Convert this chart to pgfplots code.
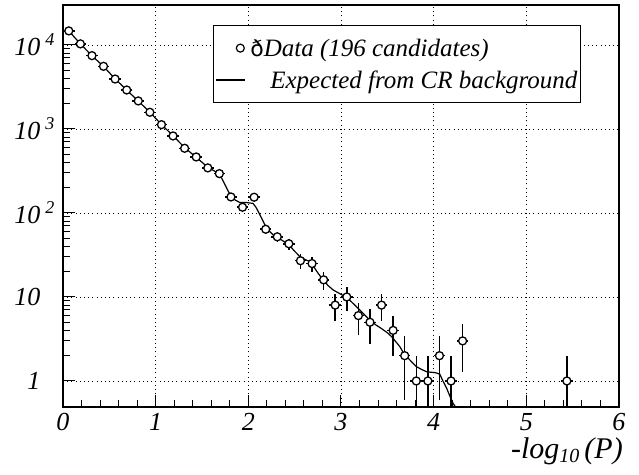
\documentclass[border=0pt]{standalone}
\usepackage{fontspec}
\setmainfont{Liberation Serif}
\newfontfamily\dejavu{DejaVu Sans}
\usepackage{pgfplots}
\pgfplotsset{compat=1.18}
\usepackage{pgfplotstable}

\pgfplotstableread{
x y ex eyp eym
0.0625 14700 0.0625 121 121
0.1875 10300 0.0625 101 101
0.3125 7460 0.0625 86 86
0.4375 5570 0.0625 75 75
0.5625 3930 0.0625 63 63
0.6875 2910 0.0625 54 54
0.8125 2155 0.0625 46 46
0.9375 1580 0.0625 40 40
1.0625 1125 0.0625 34 34
1.1875 826 0.0625 29 29
1.3125 589 0.0625 24 24
1.4375 464 0.0625 22 22
1.5625 344 0.0625 19 19
1.6875 294 0.0625 17 17
1.8125 155 0.0625 12.4 12.4
1.9375 117 0.0625 10.8 10.8
2.0625 154 0.0625 12.4 12.4
2.1875 64 0.0625 8 8
2.3125 52 0.0625 7.2 7.2
2.4375 43 0.0625 6.6 6.6
2.5625 27 0.0625 5.2 5.2
2.6875 25 0.0625 5 5
2.8125 16 0.0625 4 4
2.9375 8 0.0625 2.83 2.83
3.0625 10 0.0625 3.16 3.16
3.1875 6 0.0625 2.45 2.45
3.3125 5 0.0625 2.24 2.24
3.4375 8 0.0625 2.83 2.83
3.5625 4 0.0625 2 2
3.6875 2 0.0625 1.41 1.41
3.8125 1 0.0625 1 0.999
3.9375 1 0.0625 1 0.999
4.0625 2 0.0625 1.41 1.41
4.1875 1 0.0625 1 0.999
4.3125 3 0.0625 1.73 1.73
5.4375 1 0.0625 1 0.999
}\datatable

\pgfplotstableread{
x y
0.0625 14700
0.1875 10300
0.3125 7450
0.4375 5550
0.5625 3950
0.6875 2900
0.8125 2150
0.9375 1580
1.0625 1130
1.1875 830
1.3125 600
1.4375 460
1.5625 350
1.625 320
1.6875 290
1.72 250
1.75 215
1.785 180
1.82 156
1.86 142
1.91 133
1.98 133
2.05 130
2.08 118
2.107 104
2.14 88
2.179 72
2.22 62
2.269 54.7
2.31 50.5
2.359 47.7
2.40 44.5
2.449 40.5
2.50 35
2.557 30.2
2.61 28
2.665 26.3
2.71 22.5
2.754 19.1
2.808 15.9
2.86 13.7
2.916 12.1
2.99 10.9
3.067 9.8
3.186 7.3
3.25 6.2
3.312 5.3
3.37 4.7
3.438 4.2
3.50 3.75
3.546 3.37
3.59 2.95
3.635 2.56
3.67 2.2
3.708 1.95
3.76 1.7
3.815 1.48
3.87 1.37
3.923 1.29
3.97 1.27
4.013 1.26
4.045 1.23
4.067 1.2
4.10 1.0
4.14 0.82
4.18 0.64
4.21 0.54
4.26 0.45
}\curvetable

\newcommand{\expo}[1]{\rlap{\raisebox{10bp}{\fontsize{18bp}{20bp}\selectfont\hspace{5bp}#1}}}

\begin{document}
\begin{tikzpicture}
\path[use as bounding box] (-63bp,-68bp) rectangle (576bp,407bp);
\begin{axis}[
  at={(0,0)}, anchor=south west,
  scale only axis, width=556bp, height=402bp,
  xmin=0, xmax=6, ymode=log, ymin=0.49, ymax=29900,
  xtick={0,1,2,3,4,5,6},
  xticklabels={0,1,2,3,4,5,6},
  minor x tick num=4,
  ytick={1,10,100,1000,10000},
  yticklabels={1,10,10\expo{2},10\expo{3},10\expo{4}},
  tick label style={font=\fontsize{26bp}{30bp}\selectfont\itshape},
  yticklabel style={anchor=east, xshift=-19bp},
  xticklabel style={anchor=north, yshift=-3bp},
  tick align=inside,
  xtick pos=left, ytick pos=left,
  major tick length=12bp, minor tick length=7bp,
  every tick/.style={black, line width=1bp},
  axis line style={line width=1.5bp},
  grid=major,
  major grid style={black, line width=0.9bp, dash pattern=on 1bp off 3.2bp},
  xlabel={-log\raisebox{-4bp}{\fontsize{20bp}{22bp}\selectfont 10}\,(P)},
  xlabel style={at={(axis description cs:1,0)}, anchor=north east, yshift=-30bp, xshift=4bp, inner sep=0pt, font=\fontsize{30bp}{34bp}\selectfont\itshape},
  legend style={at={(axis description cs:0.9317,0.950)}, anchor=north east,
    draw=black, line width=1.2bp, fill=white,
    font=\fontsize{25bp}{29bp}\selectfont\itshape,
    inner xsep=1bp, inner ysep=11bp, row sep=9bp,
    nodes={inner sep=2bp}},
  legend cell align=left,
]
\addplot[black, only marks, mark=none, forget plot,
  error bars/.cd, x dir=both, x explicit, y dir=both, y explicit,
  error mark=none, error bar style={draw=black, solid, line width=1.5bp}]
  table[x=x, y=y, x error=ex, y error plus=eyp, y error minus=eym] {\datatable};
\addplot[black, line width=1.2bp, no marks, forget plot] table[x=x, y=y] {\curvetable};
\addplot[black, only marks, mark=*, mark size=4bp, forget plot,
  mark options={line width=1.3bp, fill=white, draw=black, solid}]
  table[x=x, y=y] {\datatable};
\addlegendimage{legend image code/.code={\path[draw=none] (0bp,0bp) -- (34bp,0bp); \draw[line width=1.2bp, fill=white] (26bp,0bp) circle (4bp);}}
\addlegendentry{{\dejavu\upshape\fontsize{22bp}{24bp}\selectfont ð}Data (196 candidates)}
\addlegendimage{legend image code/.code={\path[draw=none] (0bp,0bp) -- (34bp,0bp); \draw[line width=1.2bp] (2bp,0bp) -- (31bp,0bp);}}
\addlegendentry{\hspace*{20bp}Expected from CR background}
\end{axis}
\end{tikzpicture}
\end{document}
